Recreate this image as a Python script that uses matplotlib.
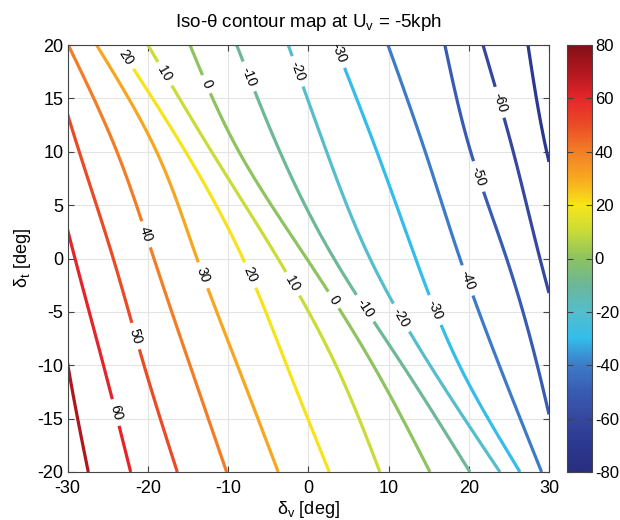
import numpy as np
import matplotlib
matplotlib.use('Agg')
import matplotlib.pyplot as plt
from matplotlib.colors import LinearSegmentedColormap, Normalize
from matplotlib.cm import ScalarMappable

# ---------------- data ----------------
# rows of delta_t where the crossings of each iso-theta line were read
delta_t_rows = [20, 10, 0, -10, -20]
# theta levels (80 ... -80), crossings for each row (delta_v, deg);
# values outside [-30, 30] are estimated continuations beyond the frame
theta_levels = [80, 70, 60, 50, 40, 30, 20, 10, 0, -10, -20, -30, -40, -50, -60, -70, -80]
cross_dt_p20 = [-41.0, -38.0, -35.0, -32.6, -29.91, -26.37, -23.71, -19.98, -14.74, -8.92, -2.49, 3.40, 9.93, 17.03, 21.77, 27.38, 32.5]
cross_dt_p10 = [-41.0, -37.0, -32.3, -28.54, -23.84, -18.89, -15.28, -12.04, -8.64, -3.53, 2.29, 8.56, 14.58, 20.24, 25.55, 29.71, 34.5]
cross_dt_0 = [-37.0, -32.6, -29.07, -24.30, -19.23, -13.87, -8.14, -3.78, -0.20, 3.20, 7.69, 13.38, 18.90, 24.72, 28.87, 33.2, 38.0]
cross_dt_m10 = [-34.0, -29.95, -25.52, -20.47, -14.74, -8.83, -2.69, 3.45, 8.10, 11.76, 15.17, 18.82, 23.80, 28.54, 32.3, 36.5, 41.0]
cross_dt_m20 = [-32.5, -27.41, -22.13, -16.32, -10.17, -3.74, 2.62, 8.93, 15.17, 20.15, 23.89, 26.38, 29.08, 31.6, 35.0, 39.0, 43.0]

contour_levels = [-70, -60, -50, -40, -30, -20, -10, 0, 10, 20, 30, 40, 50, 60, 70]
label_pos = [(-23.05, 18.69), (-18.27, 17.13), (-13.08, 16.2), (-7.68, 16.97),
             (-1.66, 17.44), (3.54, 19.19), (23.89, 14.64), (20.98, 7.63),
             (19.94, -2.03), (15.79, -4.83), (11.43, -5.61), (7.07, -4.67),
             (3.12, -3.90), (-1.87, -2.34), (-7.26, -1.56), (-13.08, -1.56),
             (-20.56, 2.18), (-21.81, -7.33), (-24.30, -14.49)]

cbar_ticks = [-80, -60, -40, -20, 0, 20, 40, 60, 80]
x_ticks = [-30, -20, -10, 0, 10, 20, 30]
y_ticks = [-20, -15, -10, -5, 0, 5, 10, 15, 20]

cmap_vals = [-80, -70, -60, -50, -40, -30, -20, -10, 0, 10, 20, 30, 40, 50, 60, 70, 80]
cmap_cols = [(0.16, 0.18, 0.50), (0.17, 0.22, 0.56), (0.21, 0.28, 0.62), (0.22, 0.36, 0.70),
             (0.24, 0.48, 0.78), (0.20, 0.74, 0.92), (0.33, 0.74, 0.80), (0.42, 0.72, 0.60),
             (0.55, 0.76, 0.38), (0.78, 0.86, 0.22), (0.97, 0.90, 0.10), (0.97, 0.66, 0.12),
             (0.95, 0.50, 0.15), (0.92, 0.30, 0.15), (0.90, 0.15, 0.17), (0.70, 0.09, 0.12),
             (0.52, 0.06, 0.09)]

# ---------------- build the field from the read crossings ----------------
def natural_spline(xk, yk, xq):
    xk = np.asarray(xk, float); yk = np.asarray(yk, float)
    n = len(xk); h = np.diff(xk)
    A = np.zeros((n, n)); r = np.zeros(n)
    A[0, 0] = A[-1, -1] = 1.0
    for i in range(1, n - 1):
        A[i, i - 1] = h[i - 1]; A[i, i] = 2 * (h[i - 1] + h[i]); A[i, i + 1] = h[i]
        r[i] = 3 * ((yk[i + 1] - yk[i]) / h[i] - (yk[i] - yk[i - 1]) / h[i - 1])
    c = np.linalg.solve(A, r)
    b = np.diff(yk) / h - h * (2 * c[:-1] + c[1:]) / 3
    d = np.diff(c) / (3 * h)
    idx = np.clip(np.searchsorted(xk, xq) - 1, 0, n - 2)
    dx = xq - xk[idx]
    return yk[idx] + b[idx] * dx + c[idx] * dx ** 2 + d[idx] * dx ** 3

rows = np.array([cross_dt_p20, cross_dt_p10, cross_dt_0, cross_dt_m10, cross_dt_m20])
dt_arr = np.array(delta_t_rows, float)
order = np.argsort(dt_arr)
xg = np.linspace(-30, 30, 601)
yg = np.linspace(-20, 20, 401)
pos = np.array([natural_spline(dt_arr[order], rows[order, k], yg) for k in range(len(theta_levels))])
Z = np.empty((len(yg), len(xg)))
lv = np.array(theta_levels, float)
for j in range(len(yg)):
    p = np.maximum.accumulate(pos[:, j] + np.arange(len(lv)) * 1e-6)
    Z[j] = np.interp(xg, p, lv)
X, Y = np.meshgrid(xg, yg)

# ---------------- plot ----------------
plt.rcParams['font.family'] = ['Liberation Sans', 'DejaVu Sans']
plt.rcParams['mathtext.fontset'] = 'custom'
plt.rcParams['mathtext.rm'] = 'Liberation Sans'
plt.rcParams['mathtext.it'] = 'Liberation Sans:italic'
plt.rcParams['axes.unicode_minus'] = False

cmap = LinearSegmentedColormap.from_list(
    'muted_jet', [((v + 80) / 160.0, c) for v, c in zip(cmap_vals, cmap_cols)])
norm = Normalize(-80, 80)

fig = plt.figure(figsize=(6.2, 5.2), dpi=100)
ax = fig.add_axes([67.5 / 620, 48 / 520, 481.5 / 620, 427 / 520])
cax = fig.add_axes([567 / 620, 48 / 520, 25 / 620, 427 / 520])

ax.set_axisbelow(True)
ax.grid(True, color='#e4e4e4', linewidth=0.8)
cs = ax.contour(X, Y, Z, levels=contour_levels, cmap=cmap, norm=norm, linewidths=2.3)
ax.clabel(cs, inline=True, fontsize=10, fmt='%d', manual=label_pos, inline_spacing=6, colors='k')

ax.set_xlim(-30, 30)
ax.set_ylim(-20, 20)
ax.set_xticks(x_ticks)
ax.set_yticks(y_ticks)
ax.tick_params(direction='in', top=True, right=True, length=4, labelsize=13, color='#444444')
ax.tick_params(axis='x', pad=6)
ax.tick_params(axis='y', pad=3)
for s in ax.spines.values():
    s.set_color('#444444')
ax.set_title(r'Iso-$\mathregular{\theta}$ contour map at $\mathregular{U_v}$ = -5kph', fontsize=13.5, pad=13)
ax.set_xlabel(r'$\mathregular{\delta_v}$ [deg]', fontsize=13, labelpad=1)
ax.set_ylabel(r'$\mathregular{\delta_t}$ [deg]', fontsize=13, labelpad=3)

cb = fig.colorbar(ScalarMappable(norm=norm, cmap=cmap), cax=cax, ticks=cbar_ticks)
cax.tick_params(direction='in', left=True, right=True, length=4, labelsize=12, color='#444444', pad=2)
cb.outline.set_edgecolor('#444444')

fig.savefig('out.png', dpi=100)
